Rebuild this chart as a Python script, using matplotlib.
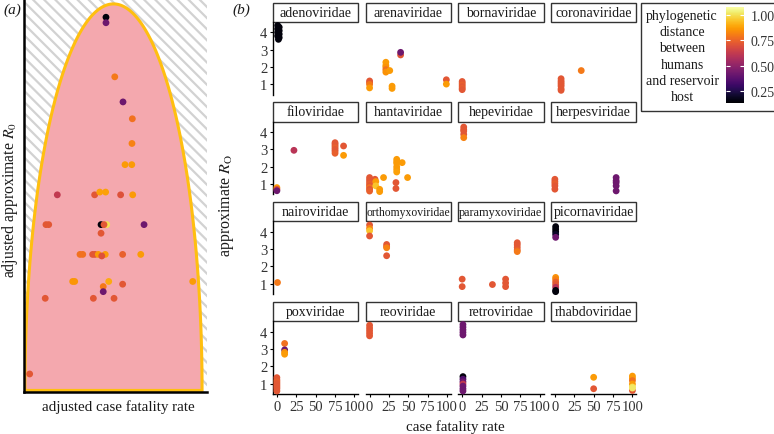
import matplotlib.pyplot as plt
import matplotlib as mpl
import numpy as np
from matplotlib.patches import Rectangle, Polygon

plt.rcParams['font.family'] = 'serif'
plt.rcParams['font.serif'] = ['Liberation Serif', 'DejaVu Serif']
plt.rcParams['mathtext.fontset'] = 'stix'
plt.rcParams['hatch.linewidth'] = 1.6

W, H = 774, 435


def box(l, t, w, h):
    # 像素坐标 -> figure 坐标
    return [l / W, 1 - (t + h) / H, w / W, h / H]


# (a) 数据：调整后的 CFR / R0 以及系统发育距离
a_cfr = [0.448, 0.448, 0.496, 0.541, 0.592, 0.590, 0.552, 0.589,
         0.182, 0.386, 0.414, 0.446, 0.528, 0.594,
         0.120, 0.135, 0.421, 0.452, 0.437, 0.656, 0.421,
         0.306, 0.321, 0.375, 0.388, 0.406, 0.444, 0.425, 0.539, 0.638,
         0.266, 0.277, 0.463, 0.539, 0.922, 0.433, 0.433,
         0.116, 0.379, 0.492, 0.031]
a_r0 = [0.956, 0.942, 0.804, 0.740, 0.697, 0.634, 0.580, 0.580,
        0.503, 0.503, 0.510, 0.510, 0.503, 0.503,
        0.427, 0.427, 0.427, 0.427, 0.427, 0.427, 0.405,
        0.351, 0.351, 0.351, 0.351, 0.351, 0.351, 0.347, 0.351, 0.351,
        0.282, 0.282, 0.282, 0.275, 0.282, 0.269, 0.256,
        0.239, 0.239, 0.239, 0.046]
a_dist = [0.15, 0.42, 0.80, 0.42, 0.78, 0.82, 0.87, 0.87,
          0.62, 0.72, 0.88, 0.88, 0.70, 0.87,
          0.72, 0.72, 0.15, 1.00, 0.72, 0.42, 0.72,
          0.78, 0.78, 0.72, 0.72, 0.87, 0.87, 0.70, 0.74, 0.87,
          0.86, 0.86, 0.90, 0.72, 0.87, 0.80, 0.42,
          0.72, 0.72, 0.72, 0.72]

# (b) 数据：各病毒科
families = ['adenoviridae', 'arenaviridae', 'bornaviridae', 'coronaviridae',
            'filoviridae', 'hantaviridae', 'hepeviridae', 'herpesviridae',
            'nairoviridae', 'orthomyxoviridae', 'paramyxoviridae', 'picornaviridae',
            'poxviridae', 'reoviridae', 'retroviridae', 'rhabdoviridae']

fam = (['adenoviridae'] * 9 + ['arenaviridae'] * 16 + ['bornaviridae'] * 6 +
       ['coronaviridae'] * 8 + ['filoviridae'] * 13 + ['hantaviridae'] * 24 +
       ['hepeviridae'] * 5 + ['herpesviridae'] * 10 + ['nairoviridae'] * 1 +
       ['orthomyxoviridae'] * 8 + ['paramyxoviridae'] * 11 + ['picornaviridae'] * 12 +
       ['poxviridae'] * 12 + ['reoviridae'] * 5 + ['retroviridae'] * 12 +
       ['rhabdoviridae'] * 9)
cfr = ([1, 3, 1, 3, 1, 3, 1, 3, 2] +
       [0, 0, 0, 0, 21, 21, 21, 21, 21, 26, 29, 29, 40, 40, 99, 99] +
       [0, 0, 0, 0, 0, 0] +
       [8, 8, 8, 8, 8, 8, 8, 34] +
       [0, 0, 0, 22, 75, 75, 75, 75, 75, 75, 75, 86, 86] +
       [0, 0, 0, 0, 0, 0, 0, 0, 7, 8, 8, 13, 13, 18, 34, 34,
        35, 35, 35, 35, 35, 35, 42, 49] +
       [2, 2, 2, 2, 2] +
       [0, 0, 0, 0, 0, 79, 79, 79, 79, 79] +
       [0] +
       [0, 0, 0, 0, 22, 22, 22, 22] +
       [0, 0, 39, 56, 56, 56, 71, 71, 71, 71, 71] +
       [1, 1, 1, 1, 1, 1, 1, 1, 1, 1, 1, 1] +
       [0, 0, 0, 0, 0, 0, 0, 0, 10, 10, 10, 10] +
       [0, 0, 0, 0, 0] +
       [1, 1, 1, 1, 1, 1, 1, 1, 1, 1, 1, 1] +
       [50, 50, 100, 100, 100, 100, 100, 100, 100])
r0 = ([4.4, 4.3, 4.2, 4.1, 4.0, 3.9, 3.8, 3.7, 3.6] +
      [1.2, 1.1, 1.0, 0.8, 2.28, 2.1, 1.99, 1.85, 1.71, 1.8, 0.9, 0.77, 2.7, 2.85, 1.27, 1.02] +
      [1.17, 1.07, 0.97, 0.87, 0.77, 0.7] +
      [1.33, 1.2, 1.1, 1.0, 0.9, 0.75, 0.66, 1.8] +
      [0.8, 0.7, 0.62, 2.95, 3.39, 3.3, 3.2, 3.1, 3.0, 2.9, 2.78, 3.2, 2.66] +
      [1.38, 1.25, 1.12, 1.0, 0.9, 0.8, 0.7, 0.6, 1.28, 1.15, 0.9, 0.57, 0.7, 1.38, 1.09, 0.75,
       2.43, 2.3, 2.2, 2.0, 1.85, 1.7, 2.24, 1.38] +
      [4.29, 4.15, 4.06, 3.87, 3.68] +
      [1.28, 1.15, 1.03, 0.9, 0.71, 1.38, 1.2, 1.09, 0.9, 0.61] +
      [1.12] +
      [4.39, 4.2, 4.06, 3.76, 3.27, 3.15, 3.08, 2.62] +
      [1.27, 0.84, 0.96, 1.27, 1.05, 0.84, 3.37, 3.25, 3.1, 2.95, 2.86] +
      [4.3, 4.15, 4.0, 3.85, 3.68, 1.37, 1.25, 1.1, 0.95, 0.8, 0.62, 0.55] +
      [1.34, 1.2, 1.1, 1.0, 0.9, 0.8, 0.7, 0.57, 3.31, 2.94, 2.8, 2.69] +
      [4.36, 4.2, 4.05, 3.9, 3.75] +
      [4.4, 4.25, 4.1, 3.95, 3.8, 1.4, 1.25, 1.1, 0.97, 0.85, 0.7, 0.57] +
      [1.36, 0.7, 1.43, 1.3, 1.17, 0.97, 0.6, 0.8, 0.74])
dist = ([0.15] * 9 +
        [0.72, 0.72, 0.80, 0.87, 0.87, 0.87, 0.85, 0.78, 0.85, 0.87, 0.87, 0.87, 0.72, 0.42, 0.72, 0.87] +
        [0.72, 0.72, 0.74, 0.72, 0.74, 0.72] +
        [0.72] * 7 + [0.80] +
        [0.87, 0.70, 0.42, 0.60, 0.72, 0.72, 0.72, 0.74, 0.72, 0.72, 0.74, 0.72, 0.87] +
        [0.72, 0.72, 0.72, 0.74, 0.72, 0.78, 0.72, 0.74, 0.72, 0.87, 0.95, 0.87, 0.87, 0.87, 0.72, 0.72,
         0.87, 0.87, 0.87, 0.87, 0.87, 0.88, 0.87, 0.87] +
        [0.72, 0.72, 0.72, 0.72, 0.82] +
        [0.72, 0.72, 0.74, 0.72, 0.72, 0.42, 0.42, 0.42, 0.42, 0.42] +
        [0.80] +
        [0.72, 0.82, 0.95, 0.72, 0.72, 0.72, 0.82, 0.72] +
        [0.72, 0.72, 0.72, 0.72, 0.72, 0.72, 0.72, 0.72, 0.72, 0.74, 0.80] +
        [0.15, 0.15, 0.15, 0.20, 0.42, 0.85, 0.82, 0.74, 0.72, 0.60, 0.15, 0.15] +
        [0.72, 0.72, 0.74, 0.72, 0.72, 0.72, 0.72, 0.72, 0.78, 0.42, 0.85, 0.87] +
        [0.72] * 5 +
        [0.42] * 5 + [0.15, 0.35, 0.42, 0.62, 0.42, 0.42, 0.42] +
        [0.87, 0.72, 0.87, 0.87, 0.78, 0.87, 0.72, 1.00, 1.02])

cmap = plt.get_cmap('inferno')
norm = mpl.colors.Normalize(vmin=0.13, vmax=1.08)
txt = '#1a1a1a'
tick_c = '#333333'
pt_size = 24

fig = plt.figure(figsize=(7.74, 4.35), dpi=100)

# ---------------- (a) ----------------
axa = fig.add_axes(box(24, 1, 183, 392))
axa.set_xlim(0, 1)
axa.set_ylim(0, 1)
axa.add_patch(Rectangle((0, 0), 1, 1, transform=axa.transAxes, facecolor='white',
                        edgecolor='#d2d2d2', hatch='\\\\\\', lw=0, zorder=0))
t = np.linspace(0, np.pi, 200)
cx, ra, y0, rb = 0.489, 0.484, 0.004, 0.986
ex = np.concatenate([cx + ra * np.cos(t), [cx - ra]])
ey = np.concatenate([y0 + rb * np.sin(t), [y0]])
axa.add_patch(Polygon(np.column_stack([ex, ey]), closed=True, facecolor='#f4a8ae',
                      edgecolor='#ffbf10', lw=2.2, joinstyle='round', zorder=1))
axa.scatter(a_cfr, a_r0, c=a_dist, cmap=cmap, norm=norm, s=pt_size, linewidths=0, zorder=3)
axa.set_xticks([])
axa.set_yticks([])
for side in ['top', 'right']:
    axa.spines[side].set_visible(False)
for side in ['left', 'bottom']:
    axa.spines[side].set_linewidth(1.8)
    axa.spines[side].set_color('black')
    axa.spines[side].set_zorder(4)

fig.text(3 / W, 1 - 10 / H, '(a)', fontsize=11, style='italic', color=txt, va='center')
fig.text(118 / W, 1 - 407 / H, 'adjusted case fatality rate', fontsize=10.8, color=txt,
         ha='center', va='center')
fig.text(10 / W, 1 - 200 / H, 'adjusted approximate $R_0$', fontsize=11.3, color=txt,
         ha='center', va='center', rotation=90)

# ---------------- (b) ----------------
fig.text(232 / W, 1 - 10 / H, '(b)', fontsize=11, style='italic', color=txt, va='center')

fam_arr = np.array(fam)
cfr_arr = np.array(cfr, dtype=float)
r0_arr = np.array(r0, dtype=float)
dist_arr = np.array(dist, dtype=float)

renderer = fig.canvas.get_renderer()
col_left = [273, 365.7, 458.3, 551]
for i, name in enumerate(families):
    r, c = divmod(i, 4)
    top = 23 + r * 99.7
    ax = fig.add_axes(box(col_left[c], top, 85.3, 72.5))
    m = fam_arr == name
    ax.scatter(cfr_arr[m], r0_arr[m], c=dist_arr[m], cmap=cmap, norm=norm,
               s=pt_size, linewidths=0, zorder=3, clip_on=False)
    ax.set_xlim(-5, 105)
    ax.set_ylim(0.42, 4.6)
    for s in ax.spines.values():
        s.set_visible(False)
    if c == 0:
        ax.spines['left'].set_visible(True)
        ax.spines['left'].set_linewidth(1.0)
        ax.set_yticks([1, 2, 3, 4])
        ax.tick_params(axis='y', length=2.5, width=0.8, pad=1.5, labelsize=10.5, labelcolor=tick_c)
    else:
        ax.set_yticks([])
    if r == 3:
        ax.spines['bottom'].set_visible(True)
        ax.spines['bottom'].set_linewidth(1.0)
        ax.set_xticks([0, 25, 50, 75, 100])
        ax.tick_params(axis='x', length=2.5, width=0.8, pad=2, labelsize=10.5, labelcolor=tick_c)
    else:
        ax.set_xticks([])
    # strip
    sh = 19.5 / 72.5
    ax.add_patch(Rectangle((0, 1), 1, sh, transform=ax.transAxes, clip_on=False,
                           facecolor='white', edgecolor='#333333', lw=1.0))
    lab = ax.text(0.5, 1 + sh / 2, name, transform=ax.transAxes, ha='center', va='center',
                  fontsize=10, color=txt)
    wpx = lab.get_window_extent(renderer).width
    if wpx > 83.5:
        lab.set_fontsize(10 * 83.5 / wpx)

fig.text(455 / W, 1 - 427 / H, 'case fatality rate', fontsize=10.8, color=txt,
         ha='center', va='center')
fig.text(227 / W, 1 - 205 / H, r'approximate $R_\mathrm{O}$', fontsize=11.5, color=txt,
         ha='center', va='center', rotation=90)

# 图例框 + 色条
fig.patches.append(Rectangle((641 / W, 1 - 112 / H), 140 / W, 108 / H,
                             transform=fig.transFigure, facecolor='none',
                             edgecolor='#333333', lw=1.0))
fig.text(682 / W, 1 - 57 / H,
         'phylogenetic\ndistance\nbetween\nhumans\nand reservoir\nhost',
         fontsize=10, color=txt, ha='center', va='center', linespacing=1.32)
cax = fig.add_axes(box(726, 8, 18, 96))
cb = fig.colorbar(mpl.cm.ScalarMappable(norm=norm, cmap=cmap), cax=cax)
cb.outline.set_visible(False)
cb.set_ticks([0.25, 0.5, 0.75, 1.0])
cb.ax.yaxis.set_major_formatter(mpl.ticker.FormatStrFormatter('%.2f'))
cb.ax.tick_params(length=3, width=0.8, color='white', direction='in', pad=5,
                  labelsize=10, labelcolor=tick_c, left=True)

plt.savefig('out.png', dpi=100)
